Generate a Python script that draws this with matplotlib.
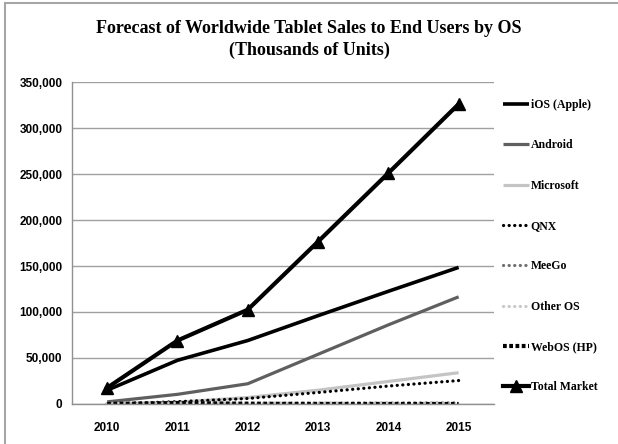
import matplotlib.pyplot as plt
from matplotlib.patches import Rectangle
from matplotlib.ticker import FuncFormatter

years = ['2010', '2011', '2012', '2013', '2014', '2015']
ios = [15000, 47500, 69000, 96000, 122500, 148500]
android = [2300, 10500, 22000, 54000, 86000, 116500]
microsoft = [0, 2000, 7000, 15000, 24500, 34000]
qnx = [0, 2500, 6000, 12500, 19500, 25500]
meego = [0, 100, 500, 800, 1000, 1200]
other_os = [600, 1200, 1000, 900, 800, 700]
webos = [0, 1000, 300, 100, 50, 0]
total = [17600, 69000, 102500, 176500, 251000, 326000]

x = list(range(len(years)))

fig = plt.figure(figsize=(6.18, 4.44), dpi=100)
ax = fig.add_axes([0.1165, 0.0901, 0.6825, 0.7252])

# grey chart-area border
fig.patches.append(Rectangle((0.008, -0.05), 1.2, 1.043, transform=fig.transFigure,
                             fill=False, edgecolor='#a6a6a6', linewidth=1.5))

dots = (0, (0.05, 1.7))
ax.plot(x, ios, color='black', lw=2.6, label='iOS (Apple)', solid_capstyle='butt')
ax.plot(x, android, color='#5f5f5f', lw=2.3, label='Android', solid_capstyle='butt')
ax.plot(x, microsoft, color='#c4c4c4', lw=2.3, label='Microsoft', solid_capstyle='butt')
ax.plot(x, qnx, color='black', lw=2.3, ls=dots, dash_capstyle='round', label='QNX')
ax.plot(x, meego, color='#707070', lw=2.3, ls=dots, dash_capstyle='round', label='MeeGo')
ax.plot(x, other_os, color='#c8c8c8', lw=2.3, ls=dots, dash_capstyle='round', label='Other OS')
ax.plot(x, webos, color='black', lw=3.0, ls=(0, (0.9, 0.6)), label='WebOS (HP)')
ax.plot(x, total, color='black', lw=3.0, marker='^', markersize=8, label='Total Market')

ax.set_xlim(-0.5, 5.5)
ax.set_ylim(0, 350000)
ax.set_yticks(range(0, 350001, 50000))
ax.set_xticks(x)
ax.set_xticklabels(years)
ax.yaxis.set_major_formatter(FuncFormatter(lambda v, p: f'{int(v):,}'))
ax.grid(axis='y', color='#a0a0a0', lw=1)
ax.set_axisbelow(True)
for s in ['top', 'right']:
    ax.spines[s].set_visible(False)
for s in ['left', 'bottom']:
    ax.spines[s].set_color('#909090')
    ax.spines[s].set_linewidth(1)
ax.tick_params(length=0)
ax.tick_params(axis='x', pad=13)
ax.tick_params(axis='y', pad=7)
for lab in ax.get_xticklabels() + ax.get_yticklabels():
    lab.set_fontfamily('Liberation Sans')
    lab.set_fontweight('bold')
    lab.set_fontsize(8.5)

fig.text(0.5, 0.911, 'Forecast of Worldwide Tablet Sales to End Users by OS\n(Thousands of Units)',
         ha='center', va='center', family='Liberation Serif', weight='bold',
         fontsize=13, linespacing=1.3)

fig.legend(loc='upper left', bbox_to_anchor=(0.805, 0.79), frameon=False,
           prop={'family': 'Liberation Serif', 'weight': 'bold', 'size': 8.5},
           handlelength=2.2, handletextpad=0.1, labelspacing=2.4, borderpad=0)

fig.savefig('out.png', dpi=100)
